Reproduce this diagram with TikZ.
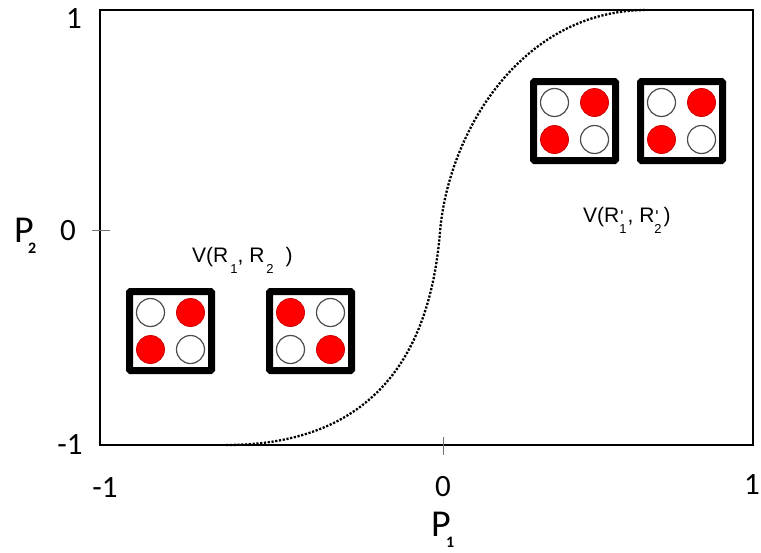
\documentclass[tikz,border=0pt]{standalone}
\usepackage{fontspec}
\newfontfamily\calib{Carlito}
\newfontfamily\arial{Liberation Sans}
% small digit set below the baseline, as in the state labels
\newcommand\lowsub[1]{\raisebox{-11pt}{\fontsize{13}{13}\selectfont #1}}
% prime above, digit below
\newcommand\primesub[1]{\rlap{\kern1pt\raisebox{0pt}{\fontsize{17}{17}\selectfont '}}\raisebox{-11pt}{\fontsize{13}{13}\selectfont #1}}
% a 2x2 cell: name, x, y, styles of the four discs (tl, tr, bl, br)
\newcommand\quadcell[7]{%
  \node[cell] (#1) at (#2,#3) {};
  \node[#4] (#1-tl) at ([shift={(-20,-18.5)}]#1.center) {};
  \node[#5] (#1-tr) at ([shift={(20,-18.5)}]#1.center) {};
  \node[#6] (#1-bl) at ([shift={(-20,18.5)}]#1.center) {};
  \node[#7] (#1-br) at ([shift={(20,18.5)}]#1.center) {};
}
\begin{document}
\begin{tikzpicture}[x=1pt,y=-1pt,
  frame/.style={line width=2pt},
  tickmark/.style={line width=0.8pt, draw=black!55},
  num/.style={font=\calib\fontsize{31}{31}\selectfont, inner sep=0pt},
  axlab/.style={font=\calib\fontsize{38}{38}\selectfont, inner sep=0pt, anchor=base west},
  axsub/.style={font=\calib\bfseries\fontsize{16}{16}\selectfont, inner sep=0pt, anchor=base west},
  vlab/.style={font=\arial\fontsize{21}{21}\selectfont, inner sep=0pt, anchor=base west},
  cell/.style={draw=black, line width=7pt, rounded corners=1pt, minimum width=82pt, minimum height=79pt, inner sep=0pt, fill=white},
  off/.style={circle, draw=black!70, line width=1.2pt, minimum size=28pt, inner sep=0pt, fill=white},
  on/.style={circle, draw=red!80!black, line width=0.8pt, fill=red, minimum size=28pt, inner sep=0pt},
  curve/.style={line width=2.3pt, dash pattern=on 2.2pt off 1.6pt}
]
\useasboundingbox (0,0) rectangle (761,552);

% switching curve
\coordinate (c0) at (226,445);
\coordinate (c1) at (440,232);
\coordinate (c2) at (647,10);
\draw[curve] (c0) .. controls (392,445) and (432,330) .. (c1)
                  .. controls (448,134) and (520,10) .. (c2);

% plot frame and ticks
\coordinate (fa) at (100,10);
\coordinate (fb) at (753,445);
\draw[frame] (fa) rectangle (fb);
\coordinate (tx1) at (443,437);
\coordinate (tx2) at (443,455);
\coordinate (ty1) at (92,230);
\coordinate (ty2) at (110,230);
\draw[tickmark] (tx1) -- (tx2);
\draw[tickmark] (ty1) -- (ty2);

% tick labels
\node[num] (y1)  at (74,19)   {1};
\node[num] (y0)  at (68,231)  {0};
\node[num] (ym1) at (70,445)  {-1};
\node[num] (xm1) at (105,488) {-1};
\node[num] (x0)  at (443,487) {0};
\node[num] (x1)  at (752,485) {1};

% axis names with their indices
\node[axlab] (p2) at (14,242) {P};
\node[axsub] (p2s) at (28,253.5) {2};
\node[axlab] (p1) at (431,536) {P};
\node[axsub] (p1s) at (446,547.5) {1};

% state labels
\node[vlab] (vl) at (192,262) {V(R\kern2pt\lowsub{1}, R\kern2pt\lowsub{2}\kern12pt)};
\node[vlab] (vr) at (583,222) {V(R\primesub{1}\kern1pt, R\primesub{2}\kern2pt)};

% configurations
\quadcell{a}{170.5}{331}{off}{on}{on}{off}
\quadcell{b}{310.5}{331}{on}{off}{off}{on}
\quadcell{c}{574.5}{121}{off}{on}{on}{off}
\quadcell{d}{681.5}{121}{off}{on}{on}{off}
\end{tikzpicture}
\end{document}
